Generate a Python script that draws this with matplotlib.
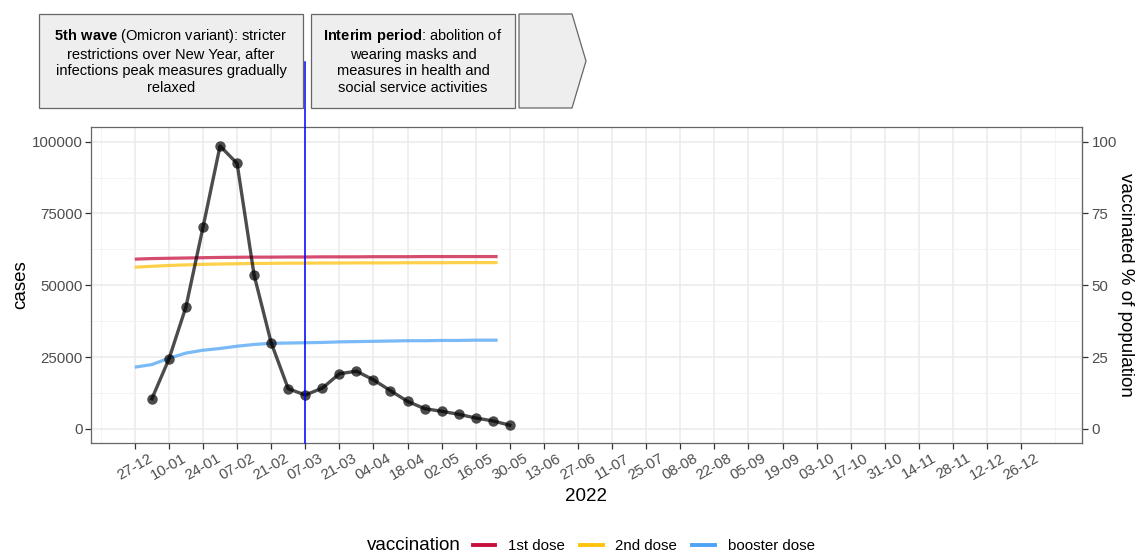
import numpy as np
import matplotlib
matplotlib.use("Agg")
import matplotlib.pyplot as plt
import matplotlib.dates as mdates
from matplotlib.patches import Rectangle, Polygon
from matplotlib.lines import Line2D
from matplotlib.ticker import FixedLocator, MultipleLocator
from datetime import date, timedelta

plt.rcParams['font.family'] = ['Liberation Sans', 'DejaVu Sans']
plt.rcParams['mathtext.fontset'] = 'custom'
plt.rcParams['mathtext.rm'] = 'Liberation Sans'
plt.rcParams['mathtext.bf'] = 'Liberation Sans:bold'

# weekly cases (week starting)
case_dates = [date(2022, 1, 3) + timedelta(weeks=i) for i in range(22)]
cases = [10500, 24300, 42500, 70200, 98500, 92400, 53500, 30000, 14000, 11800,
         14200, 19200, 20100, 17100, 13300, 9600, 7050, 6150, 5100, 3800, 2800, 1300]

# vaccination coverage, % of population
vacc_dates = [date(2021, 12, 27) + timedelta(weeks=i) for i in range(22)] + [date(2022, 5, 25)]
dose1 = [59.1, 59.3, 59.4, 59.5, 59.6, 59.7, 59.75, 59.8, 59.8, 59.85, 59.85, 59.9,
         59.9, 59.9, 59.95, 59.95, 59.95, 60.0, 60.0, 60.0, 60.0, 60.0, 60.0]
dose2 = [56.3, 56.6, 56.9, 57.1, 57.3, 57.4, 57.5, 57.6, 57.65, 57.7, 57.7, 57.75,
         57.75, 57.8, 57.8, 57.8, 57.85, 57.85, 57.85, 57.9, 57.9, 57.9, 57.9]
booster = [21.5, 22.4, 24.6, 26.4, 27.4, 28.0, 28.8, 29.4, 29.8, 29.9, 30.0, 30.1,
           30.3, 30.4, 30.5, 30.6, 30.7, 30.7, 30.8, 30.8, 30.9, 30.9, 30.9]

vacc_labels = ['1st dose', '2nd dose', 'booster dose']
vacc_colors = ['#C8103E', '#FFC20E', '#4DA3F5']

tick_dates = [date(2021, 12, 27) + timedelta(days=14 * i) for i in range(27)]
minor_dates = [date(2021, 12, 13) + timedelta(days=14 * i) for i in range(29)]
event_date = date(2022, 3, 7)

W, H = 1136, 553
fig = plt.figure(figsize=(W / 100, H / 100), dpi=100)
ax = fig.add_axes([91 / W, 1 - 443 / H, (1082 - 91) / W, (443 - 127) / H])


def px(x, y):
    return x / W, 1 - y / H


# vaccination lines on the cases scale (sec axis = cases / 1000)
for vals, col in zip([dose1, dose2, booster], vacc_colors):
    ax.plot(vacc_dates, np.array(vals) * 1000, color=col, lw=2.3, alpha=0.75,
            solid_capstyle='butt', zorder=3)

ax.plot(case_dates, cases, color='black', lw=2.4, alpha=0.7, zorder=4)
ax.plot(case_dates, cases, 'o', color='black', ms=7.5, alpha=0.7, mec='none', zorder=5)

ax.axvline(event_date, ymin=0, ymax=1 + 65 / 316, color='#0000FF', lw=1.1,
           clip_on=False, zorder=6)

ax.set_xlim(date(2021, 12, 9), date(2023, 1, 20))
ax.set_ylim(-4900, 105100)

ax.xaxis.set_major_locator(FixedLocator(mdates.date2num(tick_dates)))
ax.xaxis.set_minor_locator(FixedLocator(mdates.date2num(minor_dates)))
ax.xaxis.set_major_formatter(mdates.DateFormatter('%d-%m'))
ax.yaxis.set_major_locator(MultipleLocator(25000))
ax.yaxis.set_minor_locator(MultipleLocator(12500))
ax.grid(which='major', color='#EBEBEB', lw=1.1, zorder=0)
ax.grid(which='minor', color='#F2F2F2', lw=0.6, zorder=0)
ax.set_axisbelow(True)

for lab in ax.get_xticklabels():
    lab.set_rotation(30)
    lab.set_ha('center')
ax.tick_params(which='major', length=4, width=0.9, color='#333333',
               labelcolor='#4D4D4D', labelsize=10.8, pad=2)
ax.tick_params(which='minor', length=0)
for s in ax.spines.values():
    s.set_color('#666666')
    s.set_linewidth(0.9)

ax.set_xlabel('2022', fontsize=13.5, labelpad=4)
ax.set_ylabel('cases', fontsize=13.5, labelpad=2)

sec = ax.secondary_yaxis('right', functions=(lambda v: v / 1000, lambda v: v * 1000))
sec.set_yticks([0, 25, 50, 75, 100])
sec.tick_params(length=4, width=0.9, color='#333333', labelcolor='#4D4D4D',
                labelsize=10.8, pad=3)
sec.set_ylabel('vaccinated % of population', fontsize=13.5, rotation=-90, labelpad=12)
sec.spines['right'].set_color('#666666')

# phase boxes at the top
box_kw = dict(transform=fig.transFigure, facecolor='#EEEEEE', edgecolor='#666666', lw=0.9)
x0, y0 = px(39, 108)
x1, y1 = px(303, 14)
fig.add_artist(Rectangle((x0, y0), x1 - x0, y1 - y0, **box_kw))
x0, y0 = px(311, 108)
x1, y1 = px(515, 14)
fig.add_artist(Rectangle((x0, y0), x1 - x0, y1 - y0, **box_kw))
fig.add_artist(Polygon([px(519, 14), px(572, 14), px(586, 61), px(572, 108), px(519, 108)],
                       closed=True, **box_kw))

box1 = ("$\\bf{5th\\ wave}$ (Omicron variant): stricter\n"
        "restrictions over New Year, after\n"
        "infections peak measures gradually\n"
        "relaxed")
box2 = ("$\\bf{Interim\\ period}$: abolition of\n"
        "wearing masks and\n"
        "measures in health and\n"
        "social service activities")
fig.text(*px(171, 61), box1, ha='center', va='center', fontsize=10.5, linespacing=1.24)
fig.text(*px(413, 61), box2, ha='center', va='center', fontsize=10.5, linespacing=1.24)

# legend
fig.text(*px(367, 546), 'vaccination', ha='left', va='center', fontsize=13.5)
handles = [Line2D([], [], color=c, lw=2.8) for c in vacc_colors]
fig.legend(handles, vacc_labels, loc='center left', bbox_to_anchor=px(473, 546),
           ncol=3, frameon=False, fontsize=10.8, handlelength=1.5, handletextpad=0.85,
           columnspacing=1.0, borderpad=0, borderaxespad=0)

fig.savefig('out.png', dpi=100)
